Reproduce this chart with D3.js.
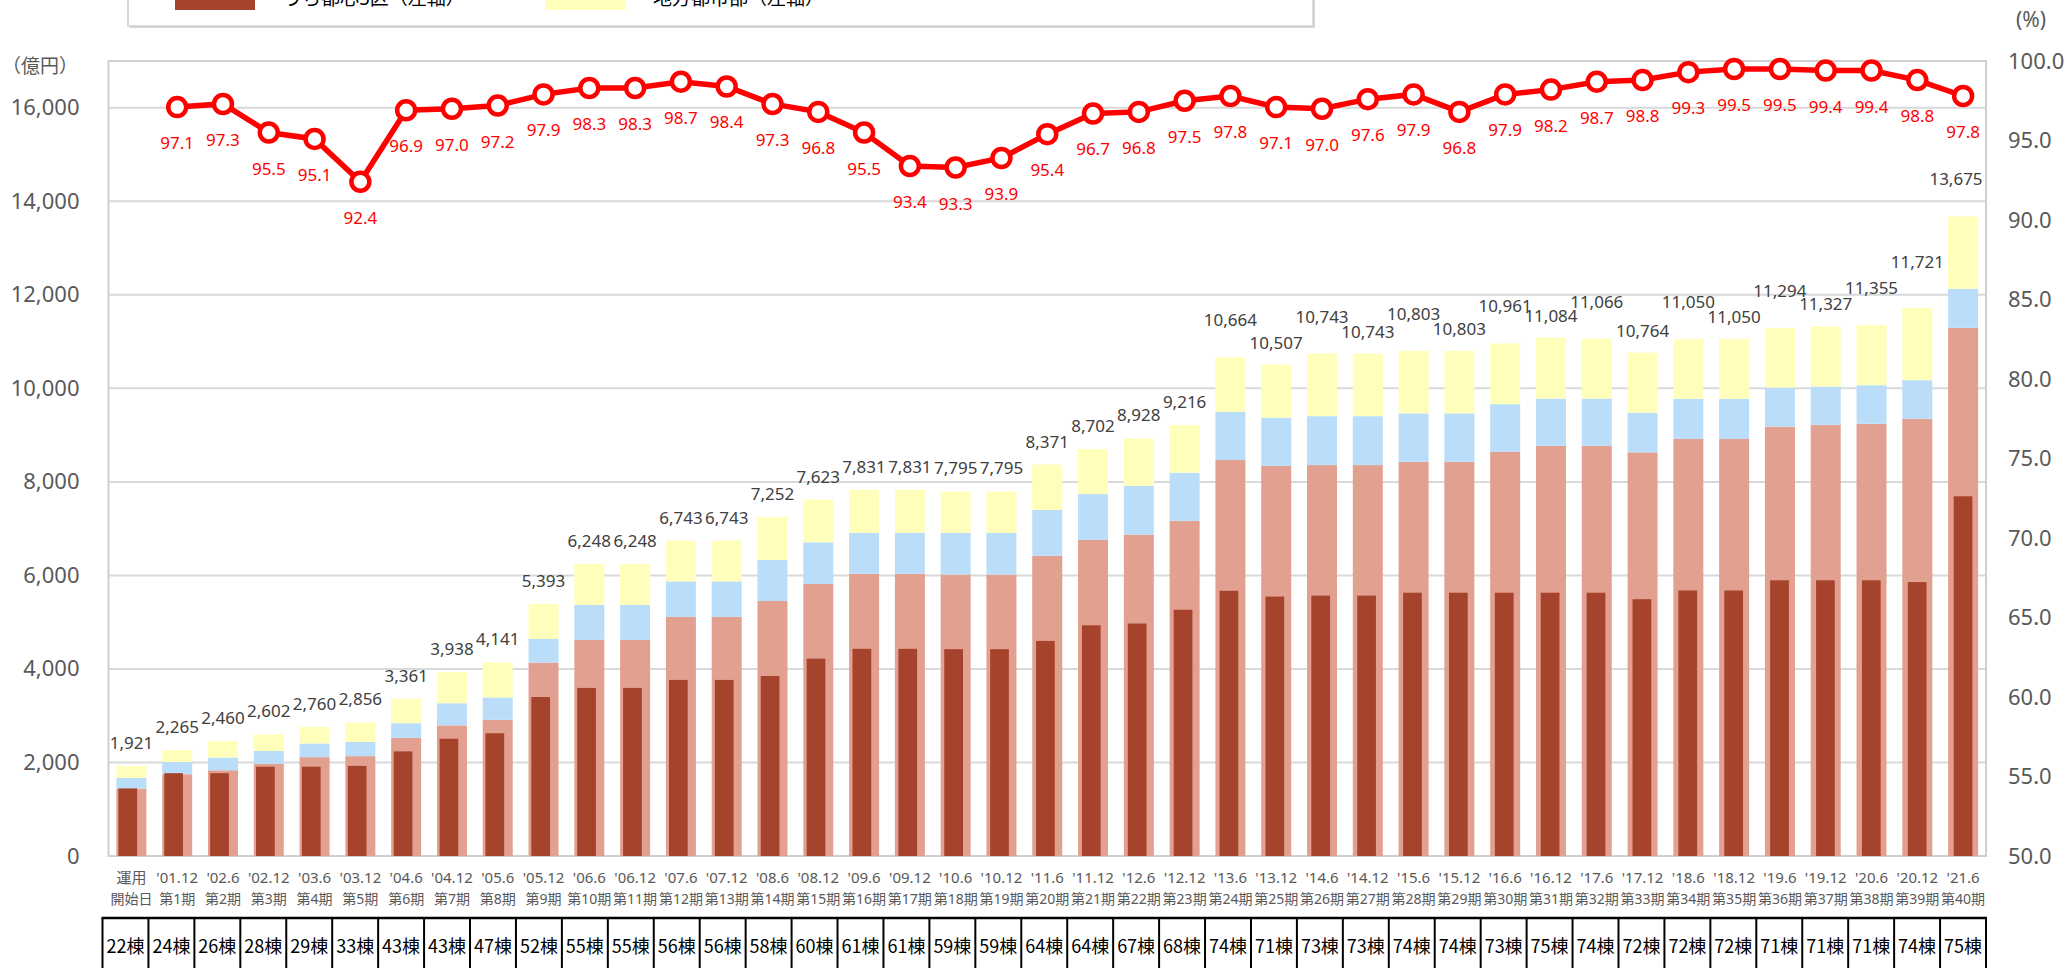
<!DOCTYPE html>
<html>
<head>
<meta charset="utf-8">
<script src="https://cdnjs.cloudflare.com/ajax/libs/d3/7.8.5/d3.min.js"></script>
<style>
  body { margin: 0; background: #fff; }
  svg { display: block; font-family: "Noto Sans", "Noto Sans CJK JP", sans-serif; }
</style>
</head>
<body>
<div id="chart"></div>
<script>
var dateLabels = ["運用", "'01.12", "'02.6", "'02.12", "'03.6", "'03.12", "'04.6", "'04.12", "'05.6", "'05.12", "'06.6", "'06.12", "'07.6", "'07.12", "'08.6", "'08.12", "'09.6", "'09.12", "'10.6", "'10.12", "'11.6", "'11.12", "'12.6", "'12.12", "'13.6", "'13.12", "'14.6", "'14.12", "'15.6", "'15.12", "'16.6", "'16.12", "'17.6", "'17.12", "'18.6", "'18.12", "'19.6", "'19.12", "'20.6", "'20.12", "'21.6"]
var termLabels = ["開始日", "第1期", "第2期", "第3期", "第4期", "第5期", "第6期", "第7期", "第8期", "第9期", "第10期", "第11期", "第12期", "第13期", "第14期", "第15期", "第16期", "第17期", "第18期", "第19期", "第20期", "第21期", "第22期", "第23期", "第24期", "第25期", "第26期", "第27期", "第28期", "第29期", "第30期", "第31期", "第32期", "第33期", "第34期", "第35期", "第36期", "第37期", "第38期", "第39期", "第40期"]

// 資産額（億円）
var totals = [1921, 2265, 2460, 2602, 2760, 2856, 3361, 3938, 4141, 5393, 6248, 6248, 6743, 6743, 7252, 7623, 7831, 7831, 7795, 7795, 8371, 8702, 8928, 9216, 10664, 10507, 10743, 10743, 10803, 10803, 10961, 11084, 11066, 10764, 11050, 11050, 11294, 11327, 11355, 11721, 13675]
var wards23 = [1440, 1748, 1833, 1972, 2113, 2135, 2524, 2794, 2911, 4135, 4622, 4622, 5112, 5112, 5452, 5816, 6034, 6034, 6019, 6019, 6421, 6761, 6871, 7166, 8468, 8342, 8359, 8359, 8428, 8428, 8646, 8770, 8770, 8631, 8918, 8918, 9181, 9219, 9243, 9350, 11294]
var suburbs = [230, 263, 272, 274, 293, 304, 317, 472, 479, 505, 747, 747, 760, 760, 877, 892, 875, 875, 890, 890, 978, 978, 1046, 1031, 1029, 1031, 1047, 1047, 1037, 1037, 1016, 1012, 1012, 849, 857, 857, 836, 820, 825, 825, 834]
var regional = [251, 254, 355, 356, 354, 417, 520, 672, 751, 753, 879, 879, 871, 871, 923, 915, 922, 922, 886, 886, 972, 963, 1011, 1019, 1167, 1134, 1337, 1337, 1338, 1338, 1299, 1302, 1284, 1284, 1275, 1275, 1277, 1288, 1287, 1546, 1547]
var central5 = [1445, 1771, 1771, 1910, 1910, 1927, 2237, 2507, 2625, 3399, 3594, 3594, 3765, 3765, 3848, 4220, 4430, 4430, 4422, 4422, 4599, 4933, 4971, 5266, 5671, 5547, 5568, 5568, 5630, 5630, 5630, 5630, 5630, 5491, 5677, 5677, 5895, 5895, 5895, 5857, 7692]

// 稼働率（%）
var occupancy = [null, 97.1, 97.3, 95.5, 95.1, 92.4, 96.9, 97.0, 97.2, 97.9, 98.3, 98.3, 98.7, 98.4, 97.3, 96.8, 95.5, 93.4, 93.3, 93.9, 95.4, 96.7, 96.8, 97.5, 97.8, 97.1, 97.0, 97.6, 97.9, 96.8, 97.9, 98.2, 98.7, 98.8, 99.3, 99.5, 99.5, 99.4, 99.4, 98.8, 97.8]

var buildings = [22, 24, 26, 28, 29, 33, 43, 43, 47, 52, 55, 55, 56, 56, 58, 60, 61, 61, 59, 59, 64, 64, 67, 68, 74, 71, 73, 73, 74, 74, 73, 75, 74, 72, 72, 72, 71, 71, 71, 74, 75]

var leftTicks = [0, 2000, 4000, 6000, 8000, 10000, 12000, 14000, 16000]
var rightTicks = [50, 55, 60, 65, 70, 75, 80, 85, 90, 95, 100]
var legendItems = ["うち都心5区（左軸）", "地方都市部（左軸）"]

var colors = {wards23: "#e2a090", suburbs: "#badefa", regional: "#ffffbb", central5: "#a6432c", line: "#ff0000"}

var W = 2067, H = 968
var plot = {left: 108.5, right: 1986, top: 61, bottom: 856}

var svg = d3.select("#chart").append("svg")
    .attr("width", W)
    .attr("height", H)

var idx = d3.range(totals.length)

var x = d3.scaleBand().domain(idx).range([plot.left, plot.right]).paddingInner(0.345).paddingOuter(0.1725)
var xDark = d3.scaleBand().domain(idx).range([104.8, plot.right]).paddingInner(0.592).paddingOuter(0.296)
var xTable = d3.scaleBand().domain(idx).range([102.5, plot.right])
var yL = d3.scaleLinear().domain([0, 17000]).range([plot.bottom, plot.top])
var yR = d3.scaleLinear().domain([50, 100]).range([plot.bottom, plot.top])

// legend (mostly above the visible area)
var lg = svg.append("g")
lg.append("rect").attr("x", 130).attr("y", -60).attr("width", 1185).attr("height", 88).attr("fill", "#d6d6d6")
lg.append("rect").attr("x", 128).attr("y", -62).attr("width", 1185).attr("height", 88)
    .attr("fill", "#fff").attr("stroke", "#d0d0d0").attr("stroke-width", 1.5)
var legendSw = [colors.central5, colors.regional]
var legendX = [175, 545]
legendItems.forEach(function(t, i) {
    lg.append("rect").attr("x", legendX[i]).attr("y", -12).attr("width", 80).attr("height", 22).attr("fill", legendSw[i])
    lg.append("text").attr("x", legendX[i] + 108).attr("y", 5).attr("font-size", 19).attr("fill", "#000").text(t)
})

// gridlines
svg.append("g")
    .selectAll("line").data(leftTicks).enter().append("line")
    .attr("x1", plot.left).attr("x2", plot.right)
    .attr("y1", function(d) { return yL(d) }).attr("y2", function(d) { return yL(d) })
    .attr("stroke", "#d9d9d9").attr("stroke-width", 2)

svg.append("rect")
    .attr("x", plot.left).attr("y", plot.top)
    .attr("width", plot.right - plot.left).attr("height", plot.bottom - plot.top)
    .attr("fill", "none").attr("stroke", "#cfcfcf").attr("stroke-width", 2)

// axes
var gl = svg.append("g").attr("transform", "translate(" + plot.left + ",0)")
    .call(d3.axisLeft(yL).tickValues(leftTicks).tickFormat(d3.format(",")).tickSize(0).tickPadding(29))
gl.select(".domain").remove()
gl.selectAll("text").attr("font-size", 22).attr("fill", "#595959").attr("font-family", "Noto Sans")

var gr = svg.append("g").attr("transform", "translate(" + plot.right + ",0)")
    .call(d3.axisRight(yR).tickValues(rightTicks).tickFormat(d3.format(".1f")).tickSize(0).tickPadding(22))
gr.select(".domain").remove()
gr.selectAll("text").attr("font-size", 22).attr("fill", "#595959").attr("font-family", "Noto Sans")

svg.append("text").attr("x", 40).attr("y", 73).attr("text-anchor", "middle")
    .attr("font-size", 19).attr("fill", "#595959").text("（億円）")
svg.append("text").attr("x", 2031).attr("y", 27).attr("text-anchor", "middle")
    .attr("font-size", 21).attr("fill", "#595959").text("(%)")

// stacked bars
var rows = idx.map(function(i) {
    return {i: i, wards23: wards23[i], suburbs: suburbs[i], regional: regional[i]}
})
var series = d3.stack().keys(["wards23", "suburbs", "regional"])(rows)

svg.append("g").selectAll("g").data(series).enter().append("g")
    .attr("fill", function(s) { return colors[s.key] })
    .selectAll("rect").data(function(s) { return s }).enter().append("rect")
    .attr("x", function(d) { return x(d.data.i) })
    .attr("width", x.bandwidth())
    .attr("y", function(d) { return yL(d[1]) })
    .attr("height", function(d) { return yL(d[0]) - yL(d[1]) })

svg.append("g").selectAll("rect").data(idx).enter().append("rect")
    .attr("x", function(i) { return xDark(i) })
    .attr("width", xDark.bandwidth())
    .attr("y", function(i) { return yL(central5[i]) })
    .attr("height", function(i) { return yL(0) - yL(central5[i]) })
    .attr("fill", colors.central5)

// total labels, staggered on the crowded right half like the original
function lift(i) {
    if (i < 24) return 17
    if (i + 1 < totals.length && totals[i + 1] - totals[i] > 1000) return 40
    return i % 2 == 0 ? 31 : 16
}
svg.append("g").selectAll("text").data(idx).enter().append("text")
    .attr("x", function(i) { return Math.min(x(i) + x.bandwidth() / 2, plot.right - 30) })
    .attr("y", function(i) { return yL(totals[i]) - lift(i) })
    .attr("text-anchor", "middle")
    .attr("font-size", 17).attr("fill", "#404040")
    .text(function(i) { return d3.format(",")(totals[i]) })

// occupancy line
var line = d3.line()
    .defined(function(i) { return occupancy[i] != null })
    .x(function(i) { return x(i) + x.bandwidth() / 2 })
    .y(function(i) { return yR(occupancy[i]) })

svg.append("path").datum(idx).attr("d", line)
    .attr("fill", "none").attr("stroke", colors.line).attr("stroke-width", 5.5)

var pts = idx.filter(function(i) { return occupancy[i] != null })
svg.append("g").selectAll("circle").data(pts).enter().append("circle")
    .attr("cx", function(i) { return x(i) + x.bandwidth() / 2 })
    .attr("cy", function(i) { return yR(occupancy[i]) })
    .attr("r", 9)
    .attr("fill", "#fff").attr("stroke", colors.line).attr("stroke-width", 4.5)

svg.append("g").selectAll("text").data(pts).enter().append("text")
    .attr("x", function(i) { return x(i) + x.bandwidth() / 2 })
    .attr("y", function(i) { return yR(occupancy[i]) + 42 })
    .attr("text-anchor", "middle")
    .attr("font-size", 17).attr("fill", colors.line)
    .text(function(i) { return d3.format(".1f")(occupancy[i]) })

// category labels
var xl = svg.append("g").selectAll("g").data(idx).enter().append("g")
    .attr("transform", function(i) { return "translate(" + (x(i) + x.bandwidth() / 2) + ",0)" })
xl.append("text").attr("y", 883).attr("text-anchor", "middle")
    .attr("font-size", 15).attr("fill", "#595959")
    .text(function(i) { return dateLabels[i] })
xl.append("text").attr("y", 904).attr("text-anchor", "middle")
    .attr("font-size", 14).attr("fill", "#595959")
    .text(function(i) { return termLabels[i] })

// building count table
var tb = svg.append("g")
tb.append("line").attr("x1", 101.5).attr("x2", plot.right + 1).attr("y1", 918).attr("y2", 918)
    .attr("stroke", "#000").attr("stroke-width", 2.5)
tb.selectAll(".vl").data(idx.concat([totals.length])).enter().append("line")
    .attr("x1", function(i) { return i < totals.length ? xTable(i) : plot.right })
    .attr("x2", function(i) { return i < totals.length ? xTable(i) : plot.right })
    .attr("y1", 918).attr("y2", H)
    .attr("stroke", "#000").attr("stroke-width", 2)
tb.selectAll(".cell").data(idx).enter().append("text")
    .attr("x", function(i) { return xTable(i) + xTable.bandwidth() / 2 })
    .attr("y", 953)
    .attr("text-anchor", "middle")
    .attr("font-size", 18).attr("fill", "#000")
    .attr("font-family", "Noto Sans CJK JP")
    .text(function(i) { return buildings[i] + "棟" })
</script>
</body>
</html>
